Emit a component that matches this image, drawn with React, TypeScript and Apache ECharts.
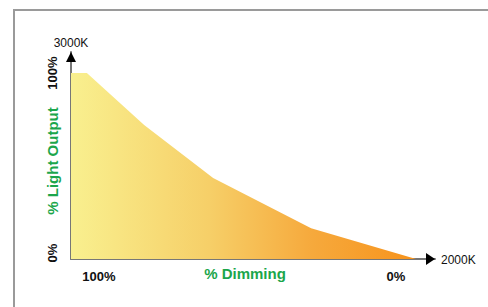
import React, { useEffect, useRef } from "react";
import * as echarts from "echarts";

// % dimming position along axis (0 = 100% dimming at left, 100 = 0% at right)
const xPositions = [0, 4.6, 21.2, 41.2, 69.6, 100];
// % light output
const lightOutput = [100, 100, 72, 43.5, 16.5, 0];
const xTickValues = [8.1, 94.2];
const xTickLabels = ["100%", "0%"];
const yTickValues = [3.2, 100];
const yTickLabels = ["0%", "100%"];
const xTitle = "% Dimming";
const yTitle = "% Light Output";
const topTemp = "3000K";
const endTemp = "2000K";

const FONT = "'Liberation Sans', Arial, Helvetica, sans-serif";
const GREEN = "#1ba64b";

export default function App() {
  const ref = useRef<HTMLDivElement>(null);
  useEffect(() => {
    if (!ref.current) return;
    const chart = echarts.init(ref.current, null, { renderer: "svg" });
    const data = xPositions.map((x, i) => [x, lightOutput[i]]);
    chart.setOption({
      animation: false,
      backgroundColor: "#fff",
      grid: { left: 71, right: 53, top: 52, bottom: 48, containLabel: false },
      xAxis: {
        type: "value",
        min: 0,
        max: 105.5,
        splitLine: { show: false },
        axisTick: { show: false },
        axisLine: { show: true, lineStyle: { color: "#777", width: 2 } },
        axisLabel: {
          customValues: xTickValues,
          formatter: (v: number) => xTickLabels[xTickValues.indexOf(v)] ?? "",
          color: "#111",
          fontWeight: "bold",
          fontSize: 13,
          fontFamily: FONT,
          margin: 11,
        },
      },
      yAxis: {
        type: "value",
        min: 0,
        max: 111.3,
        splitLine: { show: false },
        axisTick: { show: false },
        axisLine: { show: true, lineStyle: { color: "#777", width: 2 } },
        axisLabel: {
          customValues: yTickValues,
          formatter: (v: number) => yTickLabels[yTickValues.indexOf(v)] ?? "",
          color: "#111",
          fontWeight: "bold",
          fontSize: 13,
          fontFamily: FONT,
          rotate: 90,
          margin: 12,
        },
      },
      series: [
        {
          type: "line",
          data,
          symbol: "none",
          lineStyle: { width: 0 },
          areaStyle: {
            opacity: 1,
            color: new echarts.graphic.LinearGradient(0, 0, 1, 0, [
              { offset: 0, color: "#f9f08f" },
              { offset: 0.4, color: "#f6cf68" },
              { offset: 0.7, color: "#f6a93c" },
              { offset: 1, color: "#f7931c" },
            ]),
          },
          z: 1,
        },
      ],
    });
    const origin = chart.convertToPixel({ gridIndex: 0 }, [0, 0]) as number[];
    const yTop = chart.convertToPixel({ gridIndex: 0 }, [0, 111.3]) as number[];
    const xEnd = chart.convertToPixel({ gridIndex: 0 }, [105.5, 0]) as number[];
    chart.setOption({
      graphic: [
        {
          type: "rect",
          shape: { x: 14, y: 10, width: 520, height: 340 },
          style: { fill: "none", stroke: "#9a9a9a", lineWidth: 2 },
          silent: true,
        },
        {
          type: "polygon",
          shape: {
            points: [
              [yTop[0], yTop[1]],
              [yTop[0] - 5, yTop[1] + 10],
              [yTop[0] + 5, yTop[1] + 10],
            ],
          },
          style: { fill: "#000" },
          z: 10,
        },
        {
          type: "polygon",
          shape: {
            points: [
              [xEnd[0], xEnd[1]],
              [xEnd[0] - 9, xEnd[1] - 6],
              [xEnd[0] - 9, xEnd[1] + 6],
            ],
          },
          style: { fill: "#000" },
          z: 10,
        },
        {
          type: "text",
          x: yTop[0],
          y: yTop[1] - 9,
          style: {
            text: topTemp,
            fill: "#111",
            font: `12px ${FONT}`,
            align: "center",
            verticalAlign: "middle",
          },
        },
        {
          type: "text",
          x: xEnd[0] + 6,
          y: xEnd[1] + 1,
          style: {
            text: endTemp,
            fill: "#111",
            font: `12px ${FONT}`,
            align: "left",
            verticalAlign: "middle",
          },
        },
        {
          type: "text",
          x: 245,
          y: origin[1] + 14,
          style: {
            text: xTitle,
            fill: GREEN,
            font: `bold 15px ${FONT}`,
            align: "center",
            verticalAlign: "middle",
          },
        },
        {
          type: "text",
          x: 52,
          y: 161,
          rotation: Math.PI / 2,
          style: {
            text: yTitle,
            fill: GREEN,
            font: `bold 15px ${FONT}`,
            align: "center",
            verticalAlign: "middle",
          },
        },
      ],
    });
    return () => chart.dispose();
  }, []);
  return <div ref={ref} style={{ width: 488, height: 307, position: "absolute", left: 0, top: 0 }} />;
}
